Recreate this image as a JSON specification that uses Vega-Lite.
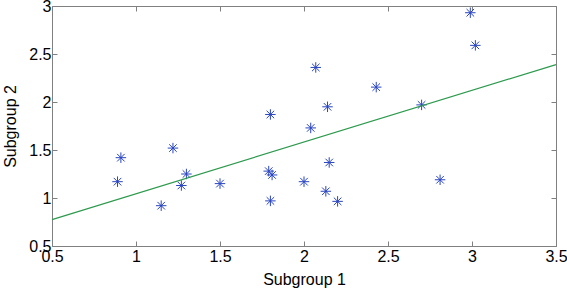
{
  "$schema": "https://vega.github.io/schema/vega-lite/v6.json",
  "width": 504,
  "height": 240,
  "autosize": {"type": "none"},
  "padding": {"left": 52, "top": 6, "right": 11, "bottom": 43},
  "background": "white",
  "config": {
    "view": {"stroke": null},
    "font": "Liberation Sans",
    "axis": {
      "grid": false,
      "domainColor": "#808080",
      "tickColor": "#808080",
      "tickSize": -5,
      "labelFontSize": 16,
      "labelColor": "#000000",
      "titleFontSize": 16,
      "titleFontWeight": "normal",
      "titleColor": "#000000",
      "labelFont": "Liberation Sans",
      "titleFont": "Liberation Sans",
      "format": "~g",
      "labelOverlap": false
    }
  },
  "resolve": {"axis": {"x": "independent", "y": "independent"}},
  "layer": [
    {
      "data": {"values": [
        {"s1": 0.89, "s2": 1.17},
        {"s1": 0.91, "s2": 1.42},
        {"s1": 1.15, "s2": 0.92},
        {"s1": 1.22, "s2": 1.52},
        {"s1": 1.27, "s2": 1.13},
        {"s1": 1.30, "s2": 1.25},
        {"s1": 1.50, "s2": 1.15},
        {"s1": 1.80, "s2": 1.87},
        {"s1": 1.79, "s2": 1.28},
        {"s1": 1.81, "s2": 1.24},
        {"s1": 1.80, "s2": 0.97},
        {"s1": 2.00, "s2": 1.17},
        {"s1": 2.04, "s2": 1.73},
        {"s1": 2.07, "s2": 2.36},
        {"s1": 2.14, "s2": 1.95},
        {"s1": 2.15, "s2": 1.37},
        {"s1": 2.13, "s2": 1.07},
        {"s1": 2.20, "s2": 0.965},
        {"s1": 2.43, "s2": 2.155},
        {"s1": 2.70, "s2": 1.97},
        {"s1": 2.81, "s2": 1.19},
        {"s1": 2.99, "s2": 2.93},
        {"s1": 3.02, "s2": 2.59}
      ]},
      "mark": {
        "type": "point",
        "shape": "M-1,0L1,0M0,-1L0,1M-0.72,-0.72L0.72,0.72M-0.72,0.72L0.72,-0.72",
        "filled": false,
        "size": 110,
        "stroke": "#2a45c0",
        "strokeWidth": 1,
        "opacity": 1
      },
      "encoding": {
        "x": {"field": "s1", "type": "quantitative", "scale": {"domain": [0.5, 3.5], "nice": false, "zero": false},
              "axis": {"orient": "bottom", "title": "Subgroup 1", "values": [0.5, 1, 1.5, 2, 2.5, 3, 3.5], "labelPadding": 7, "titlePadding": 7, "labelFlush": false}},
        "y": {"field": "s2", "type": "quantitative", "scale": {"domain": [0.5, 3], "nice": false, "zero": false},
              "axis": {"orient": "left", "title": "Subgroup 2", "values": [0.5, 1, 1.5, 2, 2.5, 3], "labelPadding": 6, "titlePadding": 10, "labelFlush": false}}
      }
    },
    {
      "data": {"values": [
        {"s1": 0.5, "s2": 0.775},
        {"s1": 3.5, "s2": 2.39}
      ]},
      "mark": {"type": "line", "stroke": "#2e9a4e", "strokeWidth": 1.2},
      "encoding": {
        "x": {"field": "s1", "type": "quantitative", "axis": {"orient": "top", "labels": false, "title": null, "values": [0.5, 1, 1.5, 2, 2.5, 3, 3.5]}},
        "y": {"field": "s2", "type": "quantitative", "axis": {"orient": "right", "labels": false, "title": null, "values": [0.5, 1, 1.5, 2, 2.5, 3]}}
      }
    }
  ]
}
